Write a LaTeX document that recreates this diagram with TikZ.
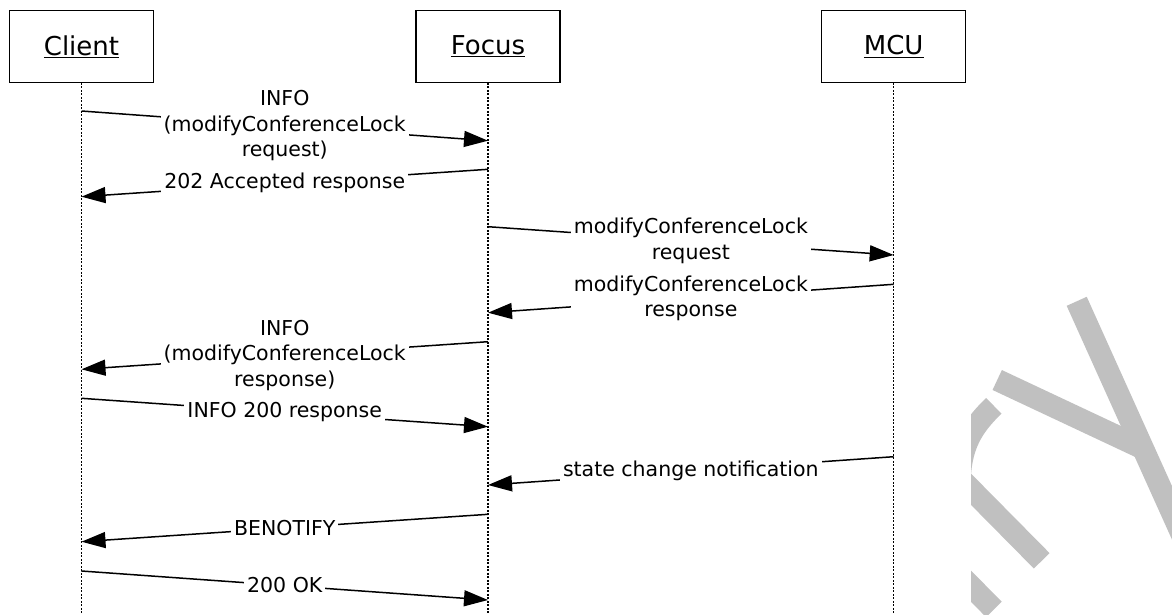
\documentclass[tikz,border=0pt]{standalone}
\usepackage{fontspec}
\setmainfont{DejaVu Sans}
\usetikzlibrary{arrows.meta}
\definecolor{wmgray}{RGB}{192,192,192}
\tikzset{
  actor/.style={draw,line width=1.3pt,minimum width=144pt,minimum height=71.5pt,inner sep=0pt,font=\fontsize{26}{30}\selectfont},
  lifeline/.style={line width=1.3pt,dash pattern=on 2pt off 1.5pt},
  msg/.style={line width=1.5pt,-{Triangle[length=24pt,width=16pt]}},
  lbl/.style={fill=white,inner sep=3pt,align=center,font=\fontsize{20.5}{25.5}\selectfont},
  wm/.style={wmgray,line width=22pt}
}

\begin{document}
\begin{tikzpicture}[x=1pt,y=-1pt]
\useasboundingbox (0,0) rectangle (1172,614);
% watermark
\begin{scope}
\clip (971,0) rectangle (1172,614);
\draw[wm] (1076.7,301.3) -- (1200,575);
\draw[wm] (997.2,380) -- (1142.8,448.4);
\draw[wm] (993.8,405.8) .. controls (975,424) and (962,442) .. (960,475);
\draw[wm] (1041.7,560.8) -- (950,468);
\draw[wm] (993.9,609.4) -- (950,565);
\end{scope}
% actors
\node[actor] (client) at (81.5,46.5) {\underline{Client}};
\node[actor] (focus) at (488,46.5) {\underline{Focus}};
\node[actor] (mcu) at (893.7,46.5) {\underline{MCU}};
% lifelines
\draw[lifeline] (client.south) -- (client |- 0,614);
\draw[lifeline] (focus.south) -- (focus |- 0,614);
\draw[lifeline] (mcu.south) -- (mcu |- 0,614);
% messages
\draw[msg] (client |- 0,111) -- node[lbl] {INFO\\(modifyConferenceLock\\request)} (focus |- 0,140.7);
\draw[msg] (focus |- 0,169.3) -- node[lbl] {202 Accepted response} (client |- 0,196.7);
\draw[msg] (focus |- 0,226.7) -- node[lbl] {modifyConferenceLock\\request} (mcu |- 0,255);
\draw[msg] (mcu |- 0,284.3) -- node[lbl] {modifyConferenceLock\\response} (focus |- 0,312.7);
\draw[msg] (focus |- 0,341.7) -- node[lbl] {INFO\\(modifyConferenceLock\\response)} (client |- 0,369.3);
\draw[msg] (client |- 0,398.3) -- node[lbl] {INFO 200 response} (focus |- 0,426.7);
\draw[msg] (mcu |- 0,456.7) -- node[lbl] {state change notification} (focus |- 0,485);
\draw[msg] (focus |- 0,514.3) -- node[lbl] {BENOTIFY} (client |- 0,541.7);
\draw[msg] (client |- 0,571) -- node[lbl] {200 OK} (focus |- 0,600);
\end{tikzpicture}
\end{document}
